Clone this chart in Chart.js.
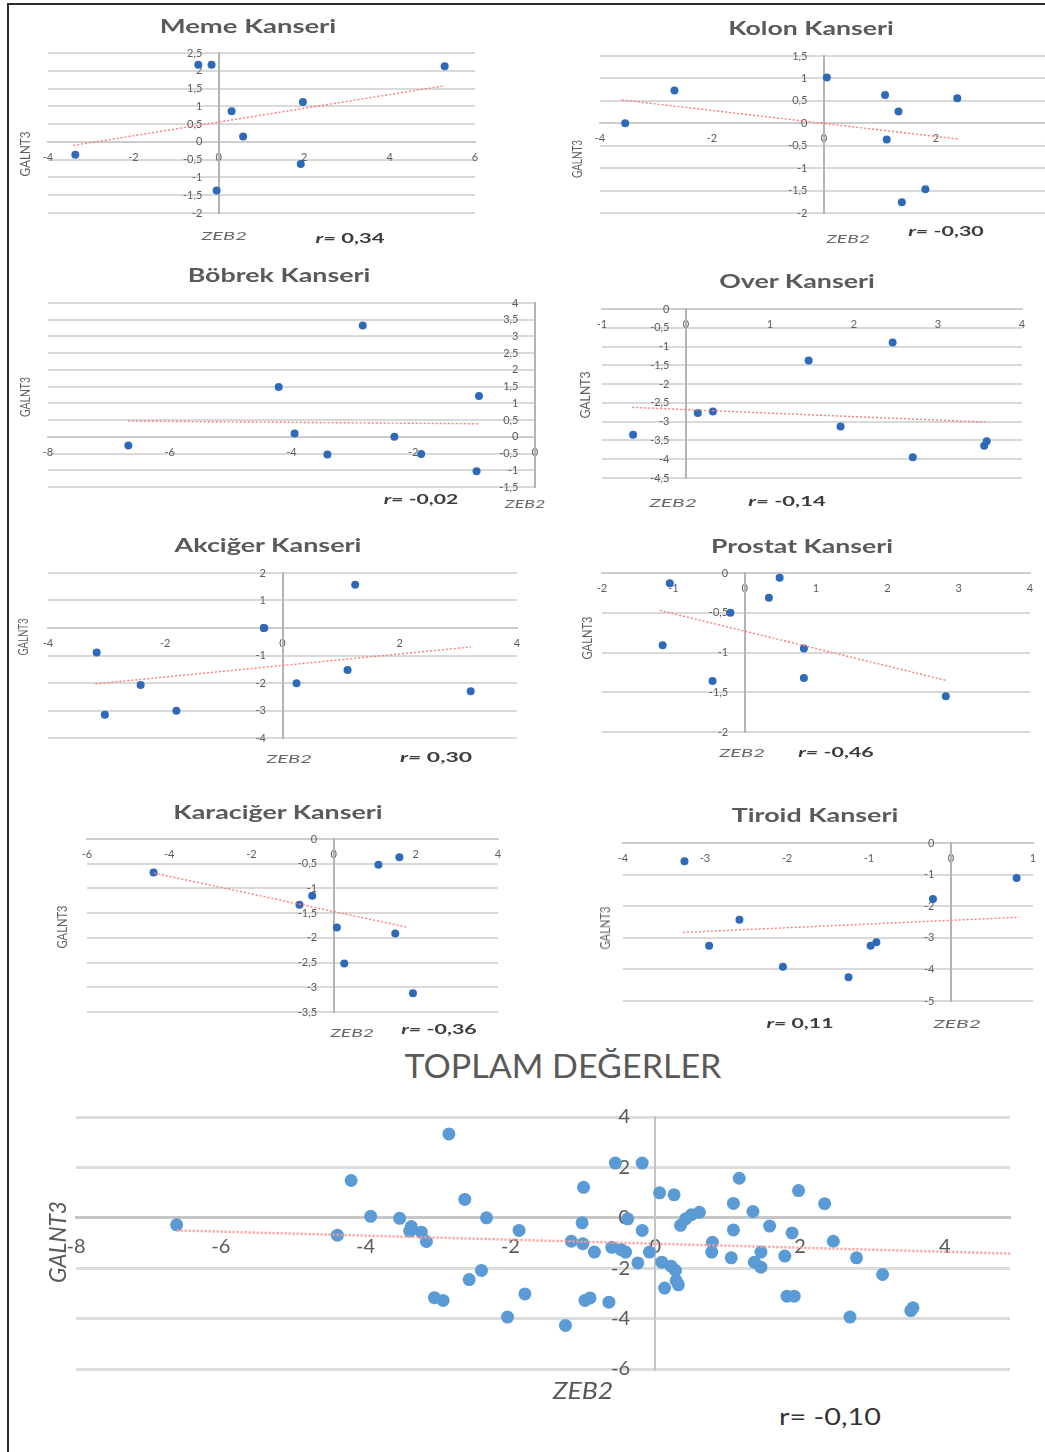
<!DOCTYPE html>
<html lang="tr">
<head>
<meta charset="utf-8">
<title>ZEB2 – GALNT3 korelasyonları</title>
<script src="https://cdn.jsdelivr.net/npm/chart.js@4.4.1/dist/chart.umd.min.js"></script>
<style>
  html, body { margin: 0; padding: 0; background: #fff; }
  #page { position: relative; width: 1045px; height: 1452px; overflow: hidden; background: #fff; }
  #frame { position: absolute; left: 7px; top: 3px; right: 0; bottom: 0;
           border-left: 2px solid #2b2b2b; border-top: 2px solid #2b2b2b; }
  canvas { position: absolute; }
  .t { position: absolute; white-space: nowrap; line-height: 1; transform-origin: 50% 50%; }
</style>
</head>
<body>
<div id="page"><div id="frame"></div></div>
<script>
// ---- Panel titles and correlation coefficients ----
const panelTitles = ['Meme Kanseri', 'Kolon Kanseri', 'Böbrek Kanseri', 'Over Kanseri',
                     'Akciğer Kanseri', 'Prostat Kanseri', 'Karaciğer Kanseri', 'Tiroid Kanseri'];
const panelR = ['0,34', '-0,30', '-0,02', '-0,14', '0,30', '-0,46', '-0,36', '0,11'];
const totalTitle = 'TOPLAM DEĞERLER';
const totalR = '-0,10';
const xAxisName = 'ZEB2';
const yAxisName = 'GALNT3';

// ---- Axis ranges: [min, max, step] ----
const memeXAxis = [-4, 6, 2],   memeYAxis = [-2, 2.5, 0.5];
const kolonXAxis = [-4, 4, 2],  kolonYAxis = [-2, 1.5, 0.5];
const bobrekXAxis = [-8, 0, 2], bobrekYAxis = [-1.5, 4, 0.5];
const overXAxis = [-1, 4, 1],   overYAxis = [-4.5, 0, 0.5];
const akcigerXAxis = [-4, 4, 2], akcigerYAxis = [-4, 2, 1];
const prostatXAxis = [-2, 4, 1], prostatYAxis = [-2, 0, 0.5];
const karacigerXAxis = [-6, 4, 2], karacigerYAxis = [-3.5, 0, 0.5];
const tiroidXAxis = [-4, 1, 1],  tiroidYAxis = [-5, 0, 1];
const totalXAxis = [-8, 4.9, 2], totalYAxis = [-6, 4, 2];

// ---- Meme ----
const memeZeb2   = [-3.36, -0.48, -0.17, 0.30, 0.57, -0.05, 1.97, 1.92, 5.29];
const memeGalnt3 = [-0.36, 2.17, 2.17, 0.86, 0.15, -1.37, 1.12, -0.62, 2.13];
const memeTrendZeb2 = [-3.41, 5.29], memeTrendGalnt3 = [-0.10, 1.58];

// ---- Kolon ----
const kolonZeb2   = [-3.55, -2.67, 0.05, 1.09, 1.33, 2.38, 1.12, 1.81, 1.39];
const kolonGalnt3 = [0.00, 0.73, 1.02, 0.63, 0.26, 0.56, -0.36, -1.47, -1.76];
const kolonTrendZeb2 = [-3.61, 2.39], kolonTrendGalnt3 = [0.52, -0.35];

// ---- Böbrek ----
const bobrekZeb2   = [-6.68, -4.21, -3.95, -3.41, -2.83, -2.31, -1.87, -0.92, -0.96];
const bobrekGalnt3 = [-0.26, 1.49, 0.10, -0.53, 3.33, 0.00, -0.51, 1.22, -1.03];
const bobrekTrendZeb2 = [-6.69, -0.94], bobrekTrendGalnt3 = [0.47, 0.39];

// ---- Over ----
const overZeb2   = [-0.63, 0.14, 0.32, 1.46, 1.84, 2.46, 2.70, 3.58, 3.55];
const overGalnt3 = [-3.35, -2.77, -2.73, -1.37, -3.13, -0.89, -3.95, -3.52, -3.64];
const overTrendZeb2 = [-0.64, 3.56], overTrendGalnt3 = [-2.62, -3.01];

// ---- Akciğer ----
const akcigerZeb2   = [-3.17, -2.42, -3.03, -1.81, -0.31, 1.24, 1.11, 0.24, 3.21];
const akcigerGalnt3 = [-0.89, -2.07, -3.15, -3.01, 0.00, 1.57, -1.53, -2.01, -2.30];
const akcigerTrendZeb2 = [-3.19, 3.21], akcigerTrendGalnt3 = [-2.03, -0.69];

// ---- Prostat ----
const prostatZeb2   = [-1.05, -1.15, -0.45, -0.20, 0.34, 0.49, 0.83, 0.83, 2.82];
const prostatGalnt3 = [-0.13, -0.91, -1.36, -0.50, -0.31, -0.06, -0.95, -1.32, -1.55];
const prostatTrendZeb2 = [-1.19, 2.82], prostatTrendGalnt3 = [-0.47, -1.35];

// ---- Karaciğer ----
const karacigerZeb2   = [-4.38, -0.52, -0.83, 0.08, 0.26, 1.09, 1.60, 1.50, 1.93];
const karacigerGalnt3 = [-0.68, -1.15, -1.33, -1.79, -2.52, -0.52, -0.37, -1.91, -3.12];
const karacigerTrendZeb2 = [-4.37, 1.82], karacigerTrendGalnt3 = [-0.69, -1.79];

// ---- Tiroid ----
const tiroidZeb2   = [-3.25, -2.95, -2.58, -2.05, -1.25, -0.98, -0.91, -0.22, 0.80];
const tiroidGalnt3 = [-0.58, -3.25, -2.43, -3.92, -4.25, -3.25, -3.14, -1.77, -1.11];
const tiroidTrendZeb2 = [-3.27, 0.83], tiroidTrendGalnt3 = [-2.83, -2.35];

// ---- Toplam (all samples) ----
const totalZeb2 = [
  -6.61, -4.20, -4.39, -3.93, -3.53, -3.37, -3.39, -3.23, -3.16, -3.05,
  -2.93, -2.85, -2.63, -2.33, -1.88, -2.40, -2.57, -1.80, -2.04, -1.24,
  -0.99, -1.01, -1.16, -1.00, -0.84, -0.97, -0.90, -0.64, -0.55, -0.18,
  -0.60, -0.47, -0.41, -0.38, -0.18, -0.24, -0.08, 0.06, 0.26, 0.09,
  0.22, 0.28, 0.13, 0.32, 0.29, 0.35, 0.42, 0.50, 0.61, 0.79,
  0.78, 1.08, 1.08, 1.05, 1.16, 1.35, 1.46, 1.37, 1.46, 1.58,
  1.89, 1.79, 1.98, 1.82, 1.92, 2.34, 2.46, 2.78, 2.69, 3.14,
  3.56, 3.53];
const totalGalnt3 = [
  -0.28, 1.48, -0.69, 0.06, -0.02, -0.35, -0.53, -0.57, -0.94, -3.17,
  -3.28, 3.33, 0.73, 0.00, -0.50, -2.09, -2.45, -3.02, -3.94, -4.27,
  1.21, -0.20, -0.93, -1.03, -1.36, -3.28, -3.18, -3.35, 2.17, 2.17,
  -1.17, -1.26, -1.36, -0.04, -0.50, -1.79, -1.36, 0.99, 0.91, -1.76,
  -1.92, -2.09, -2.79, -2.66, -2.49, -0.30, -0.04, 0.12, 0.22, -0.97,
  -1.36, -0.48, 0.57, -1.59, 1.57, 0.25, -1.36, -1.76, -1.96, -0.33,
  -0.60, -1.52, 1.08, -3.11, -3.11, 0.56, -0.93, -1.59, -3.94, -2.25,
  -3.57, -3.68];
const totalTrendZeb2 = [-6.61, 4.9], totalTrendGalnt3 = [-0.50, -1.42];

// ---------------------------------------------------------------
const FONT = 'Lato, "Open Sans", "DejaVu Sans", sans-serif';
const PAD = 30;
const page = document.getElementById('page');
const fmt = v => String(Math.round(v * 100) / 100).replace('.', ',');
const pairs = (xs, ys) => xs.map((x, i) => ({ x, y: ys[i] }));

const smallStyle = {
  dot: '#2f69b9', radius: 4, trend: '#ff7b7b', trendW: 1.4, dash: [2, 2],
  grid: '#d9d9d9', gridW: 2, axis: '#b4b4b4', axisW: 2, zero: '#cdcdcd', zeroW: 2,
  tick: '#5c5c5c', fs: 11, xpad: 9, gap: '\u2002\u2002\u2002'
};
const bigStyle = {
  dot: '#5b9bd5', radius: 6.5, trend: '#ff9a9a', trendW: 2.5, dash: [2, 2],
  grid: '#dcdcdc', gridW: 3, axis: '#c4c4c4', axisW: 2, zero: '#c6c6c6', zeroW: 3,
  tick: '#595959', fs: 20, xpad: 17, gap: '\u2002\u2002 '
};

function panel(rect, xAxis, yAxis, zeb2, galnt3, trendZ, trendG, st) {
  const [l, t, r, b] = rect.map(Math.round);
  const c = document.createElement('canvas');
  const w = (r - l) + 2 * PAD, h = (b - t) + 2 * PAD;
  c.width = w; c.height = h;
  c.style.left = (l - PAD) + 'px'; c.style.top = (t - PAD) + 'px';
  c.style.width = w + 'px'; c.style.height = h + 'px';
  page.appendChild(c);
  const tickFont = { family: FONT, size: st.fs };
  new Chart(c, {
    type: 'scatter',
    data: {
      datasets: [
        { data: pairs(trendZ, trendG), showLine: true, pointRadius: 0,
          borderColor: st.trend, borderWidth: st.trendW, borderDash: st.dash, fill: false },
        { data: pairs(zeb2, galnt3), pointRadius: st.radius, pointHoverRadius: st.radius,
          pointBackgroundColor: st.dot, pointBorderWidth: 0, borderColor: st.dot }
      ]
    },
    options: {
      responsive: false, animation: false, devicePixelRatio: 1,
      layout: { padding: PAD },
      plugins: { legend: { display: false }, tooltip: { enabled: false } },
      scales: {
        x: {
          type: 'linear', min: xAxis[0], max: xAxis[1], position: { y: 0 },
          grid: { display: false, drawTicks: false },
          border: { display: true, color: st.zero, width: st.zeroW },
          ticks: { stepSize: xAxis[2], includeBounds: false, autoSkip: false, maxRotation: 0,
                   padding: st.xpad, color: st.tick, font: tickFont, callback: v => fmt(v) }
        },
        y: {
          type: 'linear', min: yAxis[0], max: yAxis[1], position: { x: 0 },
          grid: { color: st.grid, lineWidth: st.gridW, drawTicks: false },
          border: { display: true, color: st.axis, width: st.axisW },
          ticks: { stepSize: yAxis[2], includeBounds: false, autoSkip: false,
                   color: st.tick, font: tickFont, callback: v => fmt(v) + st.gap }
        }
      }
    }
  });
}

// Places a text centred at (cx, cy) and stretches it to the given width.
function text(html, cx, cy, width, css, rotate) {
  const d = document.createElement('div');
  d.className = 't';
  d.innerHTML = html;
  Object.assign(d.style, css);
  d.style.left = cx + 'px';
  d.style.top = cy + 'px';
  page.appendChild(d);
  const sx = width / d.offsetWidth;
  d.style.transform = 'translate(-50%, -50%)' + (rotate ? ' rotate(-90deg)' : '') + ' scaleX(' + sx + ')';
}

// ---- Panel plot areas (left, top, right, bottom) ----
const panels = [
  { rect: [48, 53, 475, 213],      x: memeXAxis, y: memeYAxis, z: memeZeb2, g: memeGalnt3, tz: memeTrendZeb2, tg: memeTrendGalnt3 },
  { rect: [600, 56, 1048, 213],    x: kolonXAxis, y: kolonYAxis, z: kolonZeb2, g: kolonGalnt3, tz: kolonTrendZeb2, tg: kolonTrendGalnt3 },
  { rect: [48, 303, 535, 487],     x: bobrekXAxis, y: bobrekYAxis, z: bobrekZeb2, g: bobrekGalnt3, tz: bobrekTrendZeb2, tg: bobrekTrendGalnt3 },
  { rect: [602, 309, 1022, 478],   x: overXAxis, y: overYAxis, z: overZeb2, g: overGalnt3, tz: overTrendZeb2, tg: overTrendGalnt3 },
  { rect: [48, 573, 517, 738],     x: akcigerXAxis, y: akcigerYAxis, z: akcigerZeb2, g: akcigerGalnt3, tz: akcigerTrendZeb2, tg: akcigerTrendGalnt3 },
  { rect: [602, 573, 1030, 732],   x: prostatXAxis, y: prostatYAxis, z: prostatZeb2, g: prostatGalnt3, tz: prostatTrendZeb2, tg: prostatTrendGalnt3 },
  { rect: [87, 839, 498, 1012],    x: karacigerXAxis, y: karacigerYAxis, z: karacigerZeb2, g: karacigerGalnt3, tz: karacigerTrendZeb2, tg: karacigerTrendGalnt3 },
  { rect: [623, 843, 1033, 1001],  x: tiroidXAxis, y: tiroidYAxis, z: tiroidZeb2, g: tiroidGalnt3, tz: tiroidTrendZeb2, tg: tiroidTrendGalnt3 }
];
panels.forEach(p => panel(p.rect, p.x, p.y, p.z, p.g, p.tz, p.tg, smallStyle));
panel([76, 1117, 1010, 1369], totalXAxis, totalYAxis, totalZeb2, totalGalnt3,
      totalTrendZeb2, totalTrendGalnt3, bigStyle);

// ---- Panel texts: [cx, cy, width] ----
const titlePos = [[248, 26, 177], [811, 28, 166], [279, 275, 183], [797, 281, 155],
                  [268, 545, 187], [802, 546, 182], [278, 812, 210], [815, 815, 167]];
const galntPos = [[25, 154, 45], [577, 159, 38], [25, 397, 40], [585, 395, 47],
                  [23, 637, 37], [587, 638, 43], [62, 927, 43], [605, 928, 43]];
const zebPos   = [[224, 235, 45], [848, 238, 43], [525, 503, 40], [673, 502, 47],
                  [289, 758, 45], [742, 752, 45], [352, 1032, 43], [957, 1023, 47]];
const rPos     = [[350, 237, 69], [946, 230, 75], [421, 498, 74], [787, 500, 77],
                  [436, 756, 72], [836, 751, 75], [439, 1028, 75], [800, 1022, 67]];

const grey = '#595959';
panelTitles.forEach((s, i) => {
  text(s, titlePos[i][0], titlePos[i][1], titlePos[i][2],
       { font: 'bold 18px ' + FONT, color: '#5a5a5a' });
  text(yAxisName, galntPos[i][0], galntPos[i][1], galntPos[i][2],
       { font: '13px ' + FONT, color: '#5e5e5e' }, true);
  text(xAxisName, zebPos[i][0], zebPos[i][1], zebPos[i][2],
       { font: 'italic 12px ' + FONT, color: '#666' });
  text('<i>r=</i> ' + panelR[i], rPos[i][0], rPos[i][1], rPos[i][2],
       { font: 'bold 14px ' + FONT, color: '#3c3c3c' });
});

text(totalTitle, 563, 1065, 317, { font: '32px ' + FONT, color: grey });
text(yAxisName, 56, 1242, 82, { font: 'italic 24px ' + FONT, color: grey }, true);
text(xAxisName, 583, 1389, 61, { font: 'italic 24px ' + FONT, color: grey });
text('r= ' + totalR, 830, 1415, 102, { font: '24px ' + FONT, color: '#333' });
</script>
</body>
</html>
